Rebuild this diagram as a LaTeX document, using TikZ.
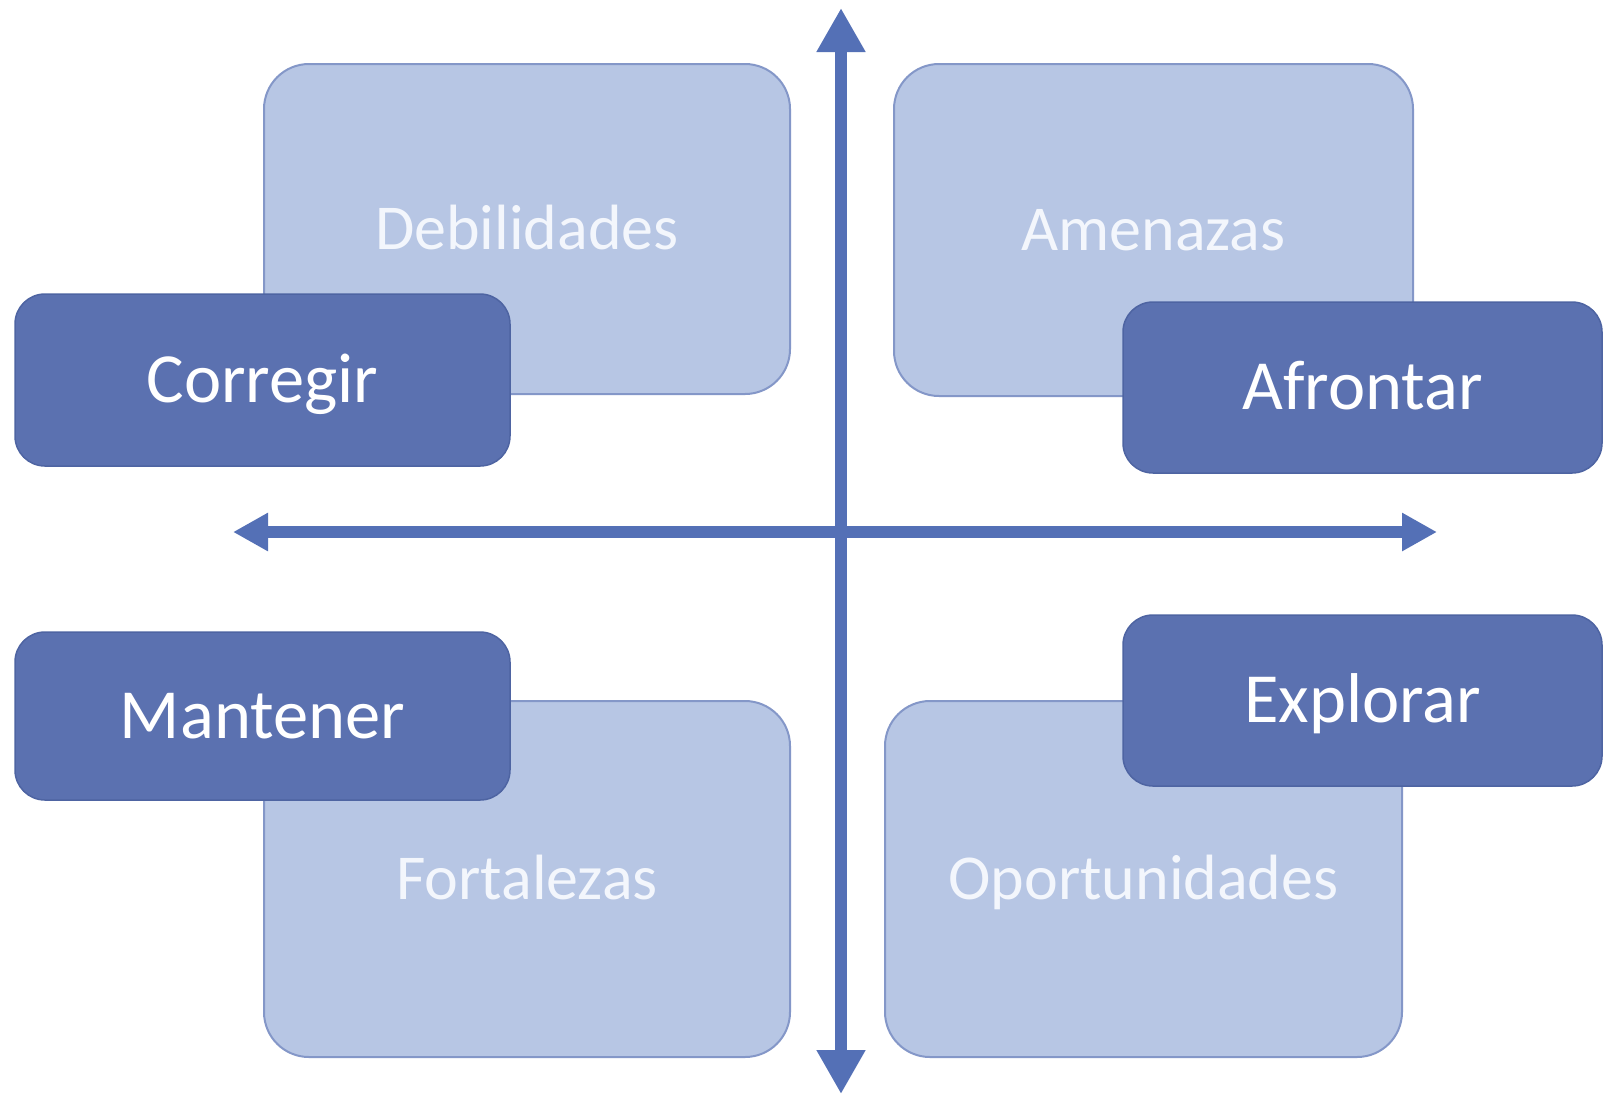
\documentclass[tikz,border=0pt]{standalone}
\usepackage{fontspec}
\setmainfont{Carlito}
\usetikzlibrary{arrows.meta}
\definecolor{lightfill}{HTML}{B7C6E4}
\definecolor{lightedge}{HTML}{8497C8}
\definecolor{darkfill}{HTML}{5B71B0}
\definecolor{darkedge}{HTML}{4E64A2}
\definecolor{axiscol}{HTML}{5470B6}
\definecolor{lighttext}{HTML}{F3F6FC}
\begin{document}
\begin{tikzpicture}[x=1pt,y=-1pt,
  lightbox/.style={draw=lightedge, line width=2pt, fill=lightfill, rounded corners=45pt,
    inner sep=0pt, text=lighttext, font=\fontsize{64}{64}\selectfont,
    text height=40.4pt, text depth=0pt},
  darkbox/.style={draw=darkedge, line width=1.5pt, fill=darkfill, rounded corners=30pt,
    inner sep=0pt, text=white, font=\fontsize{70.5}{70}\selectfont,
    text height=44.6pt, text depth=0pt},
  vaxis/.style={draw=axiscol, line width=12pt,
    {Triangle[length=44pt,width=46pt]}-{Triangle[length=44pt,width=46pt]}},
  haxis/.style={draw=axiscol, line width=12pt,
    {Triangle[length=35pt,width=36pt]}-{Triangle[length=35pt,width=36pt]}}
]
\useasboundingbox[fill=white] (0,0) rectangle (1605,1096);

% light quadrant boxes
\node[lightbox, minimum width=526pt, minimum height=330pt] (deb) at (527,229) {Debilidades};
\node[lightbox, minimum width=519pt, minimum height=332pt] (ame) at (1153.5,230) {Amenazas};
\node[lightbox, minimum width=526pt, minimum height=356pt] (fort) at (527,879) {Fortalezas};
\node[lightbox, minimum width=517pt, minimum height=356pt] (opor) at (1143.5,879) {Oportunidades};

% axes
\coordinate (vtop) at (841,8);
\coordinate (vbot) at (841,1094);
\coordinate (hleft) at (233,532);
\coordinate (hright) at (1437,532);
\draw[vaxis] (vtop) -- (vbot);
\draw[haxis] (hleft) -- (hright);

% dark action boxes
\node[darkbox, minimum width=495pt, minimum height=172pt] (corr) at (262.5,380) {Corregir};
\node[darkbox, minimum width=479pt, minimum height=171pt] (afr) at (1362.5,387.5) {Afrontar};
\node[darkbox, minimum width=495pt, minimum height=168pt] (mant) at (262.5,716) {Mantener};
\node[darkbox, minimum width=479pt, minimum height=171pt] (expl) at (1362.5,700.5) {Explorar};
\end{tikzpicture}
\end{document}
